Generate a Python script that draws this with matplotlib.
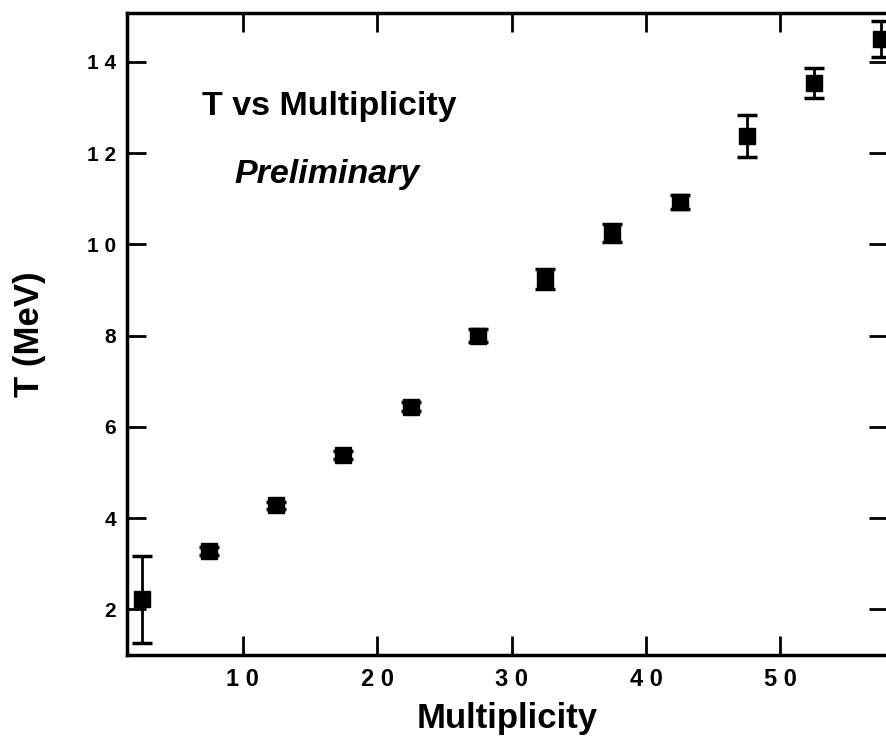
import matplotlib.pyplot as plt
import numpy as np

# data
multiplicity = [2.5, 7.5, 12.5, 17.5, 22.5, 27.5, 32.5, 37.5, 42.5, 47.5, 52.5, 57.5]
T = [2.22, 3.28, 4.28, 5.38, 6.44, 8.0, 9.25, 10.25, 10.93, 12.37, 13.54, 14.5]
T_err = [0.95, 0.08, 0.08, 0.08, 0.1, 0.15, 0.22, 0.2, 0.15, 0.46, 0.33, 0.4]

xticks = [10, 20, 30, 40, 50]
xticklabels = ["1 0", "2 0", "3 0", "4 0", "5 0"]
yticks = [2, 4, 6, 8, 10, 12, 14]
yticklabels = ["2", "4", "6", "8", "1 0", "1 2", "1 4"]

plt.rcParams['font.family'] = ['Liberation Sans', 'DejaVu Sans']

fig = plt.figure(figsize=(8.86, 7.5), dpi=100)
ax = fig.add_axes([127/886, 1 - 655/750, (888 - 127)/886, (655 - 13)/750])

ax.errorbar(multiplicity, T, yerr=T_err, fmt='s', color='black', ms=11,
            elinewidth=2, capsize=7, capthick=2.5)

ax.set_xlim(1.4, 58.0)
ax.set_ylim(1.0, 15.07)

ax.set_xticks(xticks)
ax.set_xticklabels(xticklabels, fontweight='bold')
ax.set_yticks(yticks)
ax.set_yticklabels(yticklabels, fontweight='bold')
ax.tick_params(direction='in', length=14, width=2, top=True, right=True)
ax.tick_params(axis='x', pad=9, labelsize=17)
ax.tick_params(axis='y', pad=8, labelsize=15)
for s in ax.spines.values():
    s.set_linewidth(2.5)

ax.set_xlabel("Multiplicity", fontsize=25, fontweight='bold', labelpad=8)
ax.set_ylabel("T (MeV)", fontsize=25, fontweight='bold', labelpad=29)

ax.text(7.0, 12.84, "T vs Multiplicity", fontsize=24.5, fontweight='bold',
        va='baseline')
ax.text(9.4, 11.35, "Preliminary", fontsize=24.5, fontweight='bold',
        style='italic', va='baseline')

fig.savefig("out.png", dpi=100)
